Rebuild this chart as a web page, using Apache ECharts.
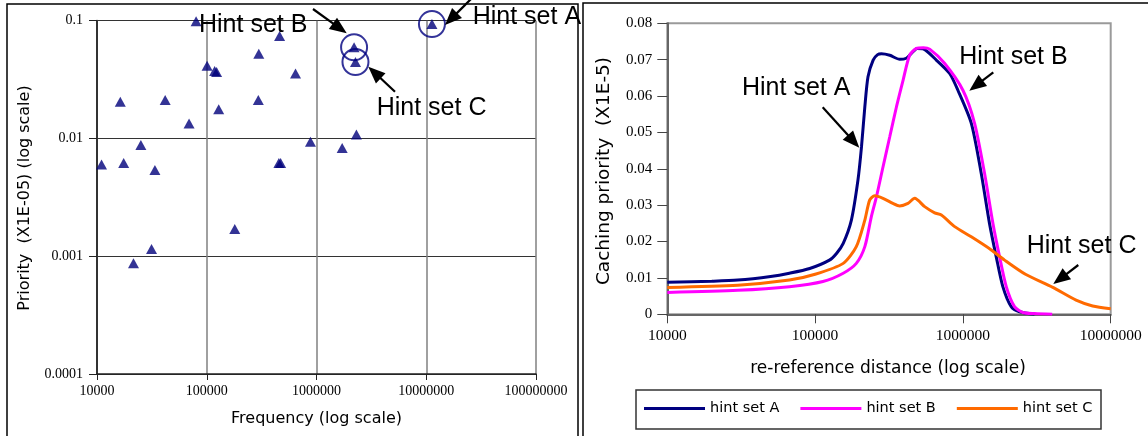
<!DOCTYPE html>
<html>
<head>
<meta charset="utf-8">
<script src="https://cdn.jsdelivr.net/npm/echarts/dist/echarts.min.js"></script>
<style>
  html, body { margin: 0; padding: 0; background: #fff; }
  #chart { width: 1148px; height: 436px; }
</style>
</head>
<body>
<div id="chart"></div>
<script>
// ---- Left panel: per-hint priority against frequency (log/log) ----
const freqTickLabels = ['10000', '100000', '1000000', '10000000', '100000000'];
const prioTickLabels = ['0.0001', '0.001', '0.01', '0.1'];

const hintFreq = [11000, 16300, 17500, 21500, 25100, 31400, 33700, 41800, 69000, 80000,
                  100700, 118000, 123000, 128500, 180000, 295000, 298000, 454000, 471000,
                  461000, 644000, 881000, 1714000, 2310000];
const hintPrio = [0.0060, 0.0205, 0.0062, 0.00087, 0.0088, 0.00115, 0.0054, 0.0212, 0.0134, 0.099,
                  0.0415, 0.0374, 0.0366, 0.0177, 0.0017, 0.0212, 0.0525, 0.0062, 0.0062,
                  0.074, 0.0357, 0.0094, 0.0083, 0.0108];

// the three hint sets that are ringed and labelled
const markedNames = ['Hint set A', 'Hint set B', 'Hint set C'];
const markedFreq = [11270000, 2200000, 2265000];
const markedPrio = [0.0937, 0.0594, 0.0446];

// ---- Right panel: caching priority against re-reference distance ----
const distTickLabels = ['10000', '100000', '1000000', '10000000'];
const cacheTickLabels = ['0', '0.01', '0.02', '0.03', '0.04', '0.05', '0.06', '0.07', '0.08'];
const seriesNames = ['hint set A', 'hint set B', 'hint set C'];
const seriesColors = ['#000080', '#ff00ff', '#ff6a00'];

const distA = [10000, 20000, 30000, 50000, 67000, 92000, 125000, 140000, 155000, 176000, 195000,
               206000, 217000, 228000, 247000, 265000, 281000, 320000, 374000, 414000, 448000,
               490000, 537000, 661000, 813000, 925000, 1140000, 1331000, 1513000, 1681000,
               1863000, 2122000, 2416000, 3050000];
const prioA = [0.0088, 0.0091, 0.0094, 0.0104, 0.0113, 0.0126, 0.0149, 0.0168, 0.0195, 0.0259, 0.0369,
               0.0460, 0.0570, 0.0653, 0.0699, 0.0714, 0.0716, 0.0712, 0.0701, 0.0704, 0.0717,
               0.0731, 0.0730, 0.0699, 0.0662, 0.0616, 0.0525, 0.0387, 0.0250, 0.0158,
               0.0076, 0.0021, 0.0007, 0.0000];

const distB = [10000, 30000, 67000, 113000, 155000, 190000, 217000, 240000, 260000, 288000,
               320000, 355000, 394000, 436000, 485000, 540000, 596000, 751000, 1000000, 1200000,
               1402000, 1596000, 1771000, 1965000, 2234000, 2543000, 3050000, 4020000];
const prioB = [0.0060, 0.0066, 0.0076, 0.0090, 0.0113, 0.0140, 0.0186, 0.0268, 0.0323, 0.0405,
               0.0488, 0.0570, 0.0644, 0.0712, 0.0731, 0.0733, 0.0729, 0.0690, 0.0616, 0.0525,
               0.0387, 0.0250, 0.0158, 0.0076, 0.0021, 0.0005, 0.0002, 0.0000];

const distC = [10000, 30000, 67000, 100000, 155000, 190000, 217000, 234000, 253000, 288000,
               336000, 373000, 425000, 472000, 551000, 644000, 715000, 880000, 1140000, 1556000,
               1914000, 2650000, 4060000, 5830000, 7550000, 10000000];
const prioC = [0.0074, 0.0080, 0.0094, 0.0110, 0.0140, 0.0186, 0.0259, 0.0314, 0.0326, 0.0319,
               0.0305, 0.0298, 0.0305, 0.0319, 0.0296, 0.0279, 0.0273, 0.0241, 0.0213, 0.0177,
               0.0149, 0.0110, 0.0074, 0.0039, 0.0023, 0.0015];

const zip = (xs, ys) => xs.map((x, i) => [x, ys[i]]);
const decade = v => Math.round(Math.log10(v));

const TICK_FONT = 'Liberation Serif';
const TITLE_FONT = 'DejaVu Sans';
const NOTE_FONT = 'Liberation Sans';

// black arrow with a filled head, pointing from (x1,y1) to (x2,y2)
function arrow(x1, y1, x2, y2) {
  const dx = x2 - x1, dy = y2 - y1, L = Math.hypot(dx, dy);
  const ux = dx / L, uy = dy / L, hl = 17, hw = 7;
  const bx = x2 - ux * hl, by = y2 - uy * hl;
  return [
    { type: 'line', z: 100, shape: { x1: x1, y1: y1, x2: bx + ux * 3, y2: by + uy * 3 },
      style: { stroke: '#000', lineWidth: 2.2 } },
    { type: 'polygon', z: 100,
      shape: { points: [[x2, y2], [bx - uy * hw, by + ux * hw], [bx + uy * hw, by - ux * hw]] },
      style: { fill: '#000' } }
  ];
}
function note(text, x, y) {
  return { type: 'text', z: 100, x: x, y: y,
    style: { text: text, fontFamily: NOTE_FONT, fontSize: 25, fill: '#000', verticalAlign: 'middle' } };
}

const chart = echarts.init(document.getElementById('chart'), null, { renderer: 'canvas' });

const option = {
  animation: false,
  backgroundColor: '#fff',
  grid: [
    { left: 97, top: 20.7, width: 439, height: 353.3, containLabel: false },
    { left: 667.3, top: 23.3, width: 443.4, height: 291, containLabel: false,
      show: true, borderColor: '#9a9a9a', borderWidth: 2 }
  ],
  xAxis: [
    { type: 'log', gridIndex: 0, logBase: 10, min: 1e4, max: 1e8,
      axisLine: { show: true, lineStyle: { color: '#222', width: 1.5 } },
      axisTick: { show: true, length: 6, lineStyle: { color: '#222' } },
      axisLabel: { formatter: v => freqTickLabels[decade(v) - 4], fontFamily: TICK_FONT,
                   fontSize: 14, color: '#000', margin: 10 },
      splitLine: { show: true, lineStyle: { color: '#808080', width: 1.5 } },
      minorTick: { show: false }, minorSplitLine: { show: false } },
    { type: 'log', gridIndex: 1, logBase: 10, min: 1e4, max: 1e7,
      axisLine: { show: true, lineStyle: { color: '#666', width: 2 } },
      axisTick: { show: true, length: 9, lineStyle: { color: '#444' } },
      axisLabel: { formatter: v => distTickLabels[decade(v) - 4], fontFamily: TICK_FONT,
                   fontSize: 15.5, color: '#000', margin: 14 },
      splitLine: { show: false } }
  ],
  yAxis: [
    { type: 'log', gridIndex: 0, logBase: 10, min: 1e-4, max: 0.1,
      axisLine: { show: true, lineStyle: { color: '#333', width: 2 } },
      axisTick: { show: true, length: 8, lineStyle: { color: '#222' } },
      axisLabel: { formatter: v => prioTickLabels[decade(v) + 4], fontFamily: TICK_FONT,
                   fontSize: 14, color: '#000', margin: 14 },
      splitLine: { show: true, lineStyle: { color: '#333', width: 1 } } },
    { type: 'value', gridIndex: 1, min: 0, max: 0.08, interval: 0.01,
      axisLine: { show: true, lineStyle: { color: '#666', width: 2 } },
      axisTick: { show: true, length: 10, lineStyle: { color: '#444' } },
      axisLabel: { formatter: v => cacheTickLabels[Math.round(v * 100)], fontFamily: TICK_FONT,
                   fontSize: 15, color: '#000', margin: 15 },
      splitLine: { show: false } }
  ],
  legend: {
    data: seriesNames, left: 644, top: 401, orient: 'horizontal', padding: 0,
    icon: 'rect', itemWidth: 61, itemHeight: 3, itemGap: 21,
    textStyle: { fontFamily: TITLE_FONT, fontSize: 14.5, color: '#000' }
  },
  series: [
    { type: 'scatter', name: 'rings', xAxisIndex: 0, yAxisIndex: 0, z: 3,
      data: zip(markedFreq, markedPrio), symbol: 'circle', symbolSize: 26,
      itemStyle: { color: 'rgba(0,0,0,0)', borderColor: '#000080', borderWidth: 2 } },
    { type: 'scatter', name: 'hints', xAxisIndex: 0, yAxisIndex: 0, z: 4,
      data: zip(hintFreq, hintPrio).concat(zip(markedFreq, markedPrio)),
      symbol: 'triangle', symbolSize: [11, 10], itemStyle: { color: '#00007a' } },
  ].concat([[distA, prioA], [distB, prioB], [distC, prioC]].map((d, i) => ({
    type: 'line', name: seriesNames[i], xAxisIndex: 1, yAxisIndex: 1,
    data: zip(d[0], d[1]), showSymbol: false, symbol: 'none', smooth: 0.25,
    color: seriesColors[i], lineStyle: { color: seriesColors[i], width: 3 }, z: 5 + i
  }))),
  graphic: [
    // panel frames
    { type: 'polyline', shape: { points: [[7, 440], [7, 4], [578, 4], [578, 440]] },
      style: { stroke: '#000', lineWidth: 1.5, fill: null } },
    { type: 'polyline', shape: { points: [[583, 440], [583, 3], [1150, 3]] },
      style: { stroke: '#000', lineWidth: 1.5, fill: null } },
    // legend box
    { type: 'rect', shape: { x: 636, y: 390, width: 465, height: 39 },
      style: { stroke: '#333', lineWidth: 1.5, fill: null } },
    // axis titles
    { type: 'text', x: 316.5, y: 419,
      style: { text: 'Frequency (log scale)', fontFamily: TITLE_FONT, fontSize: 16, fill: '#000',
               align: 'center', verticalAlign: 'middle' } },
    { type: 'text', x: 25, y: 198, rotation: Math.PI / 2,
      style: { text: 'Priority  (X1E-05) (log scale)', fontFamily: TITLE_FONT, fontSize: 16, fill: '#000',
               align: 'center', verticalAlign: 'middle' } },
    { type: 'text', x: 888, y: 369,
      style: { text: 're-reference distance (log scale)', fontFamily: TITLE_FONT, fontSize: 17, fill: '#000',
               align: 'center', verticalAlign: 'middle' } },
    { type: 'text', x: 604, y: 171, rotation: Math.PI / 2,
      style: { text: 'Caching priority  (X1E-5)', fontFamily: TITLE_FONT, fontSize: 18.5, fill: '#000',
               align: 'center', verticalAlign: 'middle' } },
    // call-outs, left panel
    note(markedNames[1], 199, 25), ...arrow(313, 9, 346.7, 33.3),
    note(markedNames[2], 376.7, 108.5), ...arrow(395, 91.7, 368.3, 66.7),
    note(markedNames[0], 472.7, 17), ...arrow(472, -2, 445, 25),
    // call-outs, right panel
    note('Hint set A', 742, 88.5), ...arrow(822.7, 107.3, 859.3, 147.7),
    note('Hint set B', 959.3, 57), ...arrow(993.3, 72.3, 969.3, 90.7),
    note('Hint set C', 1026.7, 246), ...arrow(1078.3, 265, 1053.3, 284)
  ]
};

chart.setOption(option);
</script>
</body>
</html>
